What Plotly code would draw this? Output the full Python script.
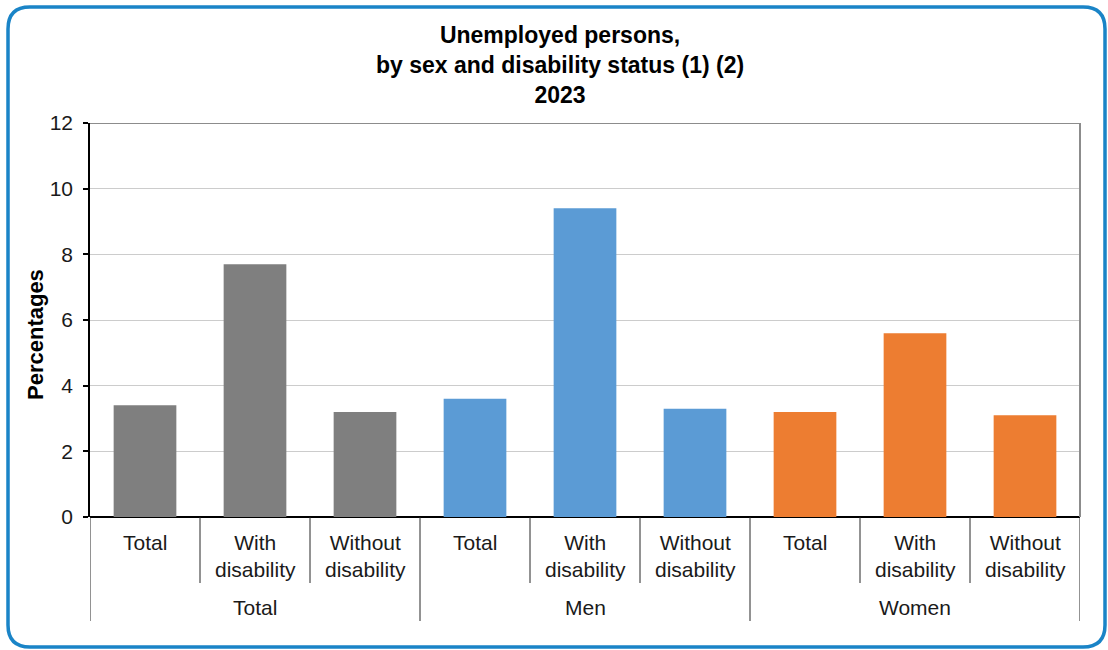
import plotly.graph_objects as go

# Unemployment rates (%) by sex and disability status, 2023
groups = ["Total", "Men", "Women"]
subcategories = ["Total", "With disability", "Without disability"]
sub_labels = ["Total", "With<br>disability", "Without<br>disability"]
values_total = [3.4, 7.7, 3.2]
values_men = [3.6, 9.4, 3.3]
values_women = [3.2, 5.6, 3.1]
group_colors = ["#7f7f7f", "#5b9bd5", "#ed7d31"]
y_ticks = [0, 2, 4, 6, 8, 10, 12]

FONT = "Liberation Sans, Arial, sans-serif"
W, H = 1108, 650
L, R, T, B = 90, 28, 123, 133
PW, PH = W - L - R, H - T - B


def px_x(p):
    return (p - L) / PW


def px_y(p):
    return (H - B - p) / PH


fig = go.Figure()
series = [values_total, values_men, values_women]
n_sub = len(subcategories)
for gi, (name, vals, col) in enumerate(zip(groups, series, group_colors)):
    xs = [gi * n_sub + si for si in range(n_sub)]
    fig.add_trace(go.Bar(
        x=xs, y=vals, name=name, marker=dict(color=col, line=dict(width=0)),
        width=0.57, showlegend=False,
        customdata=[subcategories[i] for i in range(n_sub)],
        hovertemplate=name + " - %{customdata}: %{y}<extra></extra>",
    ))

n_cat = len(groups) * n_sub
shapes = []
# plot frame: gray top and right borders
shapes.append(dict(type="line", xref="paper", yref="y", x0=0, x1=1, y0=12, y1=12,
                   line=dict(color="#8c8c8c", width=2)))
shapes.append(dict(type="line", xref="paper", yref="paper", x0=1, x1=1, y0=0, y1=1,
                   line=dict(color="#8c8c8c", width=2)))
# category dividers below the x axis
for k in range(n_cat + 1):
    long_div = (k % n_sub == 0)
    y_end = px_y(621) if long_div else px_y(583)
    shapes.append(dict(type="line", xref="x", yref="paper", x0=k - 0.5, x1=k - 0.5,
                       y0=0, y1=y_end, line=dict(color="#262626", width=1)))

# rounded blue frame around the whole chart
x0, x1 = px_x(8), px_x(1105)
y0, y1 = px_y(7), px_y(647)
r = 22
rx, ry = r / PW, r / PH
path = (f"M {x0 + rx},{y0} L {x1 - rx},{y0} Q {x1},{y0} {x1},{y0 - ry} "
        f"L {x1},{y1 + ry} Q {x1},{y1} {x1 - rx},{y1} "
        f"L {x0 + rx},{y1} Q {x0},{y1} {x0},{y1 + ry} "
        f"L {x0},{y0 - ry} Q {x0},{y0} {x0 + rx},{y0} Z")
shapes.append(dict(type="path", xref="paper", yref="paper", path=path,
                   line=dict(color="#1a84c7", width=3.5)))

annotations = []
for gi, name in enumerate(groups):
    for si, lab in enumerate(sub_labels):
        annotations.append(dict(
            x=gi * n_sub + si, xref="x", y=px_y(529), yref="paper",
            text=lab, showarrow=False, yanchor="top", xanchor="center",
            font=dict(family=FONT, size=21, color="#1a1a1a"),
        ))
    annotations.append(dict(
        x=gi * n_sub + (n_sub - 1) / 2, xref="x", y=px_y(607), yref="paper",
        text=name, showarrow=False, yanchor="middle", xanchor="center",
        font=dict(family=FONT, size=21, color="#1a1a1a"),
    ))

annotations.append(dict(
    x=px_x(560), xref="paper", y=px_y(65), yref="paper",
    text="<b>Unemployed persons,<br>by sex and disability status (1) (2)<br>2023</b>",
    showarrow=False, xanchor="center", yanchor="middle",
    font=dict(family=FONT, size=23, color="#000000"),
))
annotations.append(dict(
    x=px_x(35), xref="paper", y=px_y(335), yref="paper",
    text="<b>Percentages</b>", textangle=-90, showarrow=False,
    xanchor="center", yanchor="middle",
    font=dict(family=FONT, size=22, color="#000000"),
))

fig.update_layout(
    width=W, height=H,
    margin=dict(l=L, r=R, t=T, b=B),
    paper_bgcolor="white", plot_bgcolor="white",
    bargap=0.43,
    shapes=shapes, annotations=annotations,
    xaxis=dict(range=[-0.5, n_cat - 0.5], showticklabels=False, showgrid=False,
               zeroline=False, showline=False, ticks="", fixedrange=True),
    yaxis=dict(range=[0, 12], tickvals=y_ticks, showgrid=True, gridcolor="#cccccc",
               gridwidth=1, zeroline=True, zerolinecolor="#000000", zerolinewidth=1.5,
               showline=True, linecolor="#000000", linewidth=1.5,
               ticks="outside", ticklen=5, tickwidth=1.5, tickcolor="#000000",
               ticklabelstandoff=6,
               tickfont=dict(family=FONT, size=21, color="#1a1a1a"), fixedrange=True),
)

fig.write_html("out.html")
